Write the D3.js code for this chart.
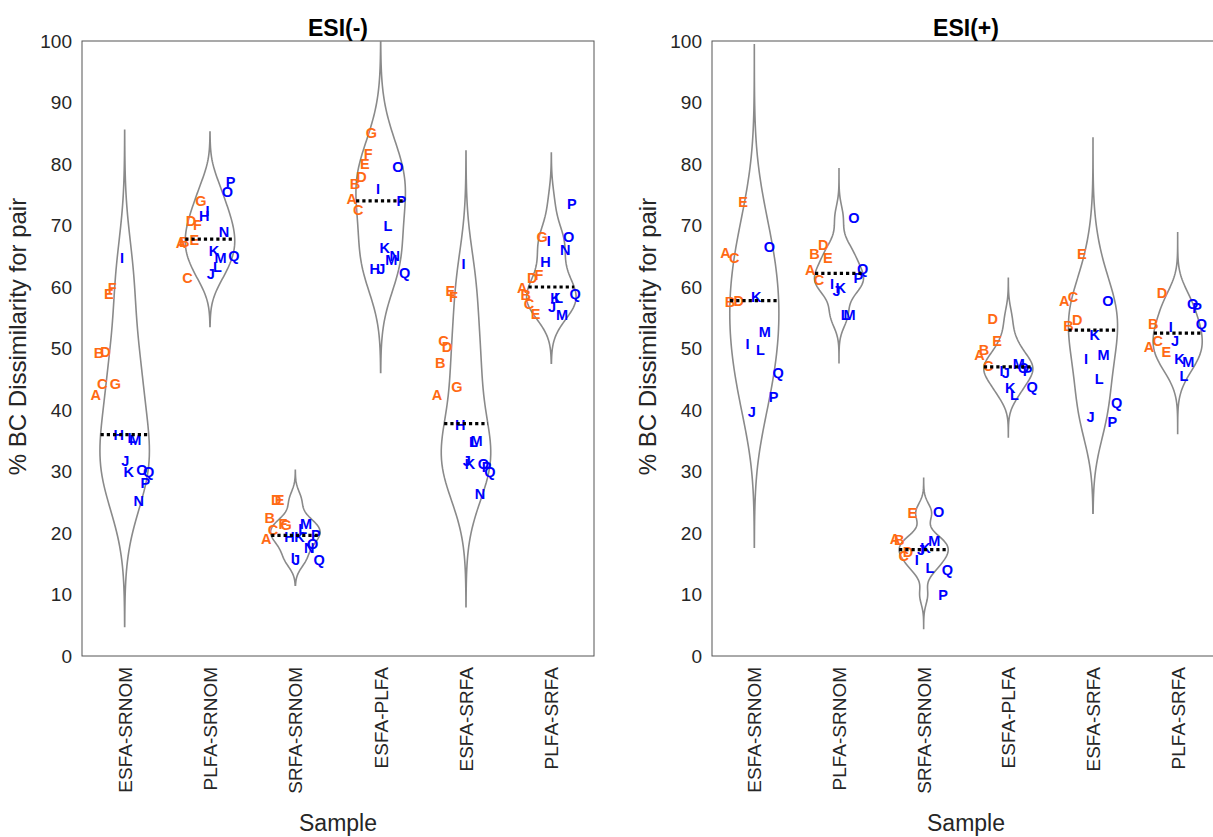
<!DOCTYPE html>
<html>
<head>
<meta charset="utf-8">
<script src="https://cdn.jsdelivr.net/npm/d3@7"></script>
<style>
  body { margin: 0; background: #fff; }
  text { font-family: "Liberation Sans", Arial, sans-serif; }
</style>
</head>
<body>
<script>
const samples = ['ESFA-SRNOM', 'PLFA-SRNOM', 'SRFA-SRNOM', 'ESFA-PLFA', 'ESFA-SRFA', 'PLFA-SRFA'];
const yTicks = [0, 10, 20, 30, 40, 50, 60, 70, 80, 90, 100];
const orangeLetters = ['A', 'B', 'C', 'D', 'E', 'F', 'G'];

// ESI(-): one row per sample, values in letter order A..Q
const negLetters = ['A', 'B', 'C', 'D', 'E', 'F', 'G', 'H', 'I', 'J', 'K', 'L', 'M', 'N', 'O', 'P', 'Q'];
const negValues = [
  [42.4, 49.2, 44.3, 49.4, 58.9, 59.9, 44.3, 35.9, 64.8, 31.8, 29.9, 35.4, 35.1, 25.2, 30.2, 28.1, 30.0],
  [67.2, 67.3, 61.4, 70.8, 67.7, 70.1, 74.0, 71.6, 72.3, 62.1, 65.9, 63.2, 64.8, 69.0, 75.5, 77.1, 65.1],
  [19.1, 22.4, 20.5, 25.3, 25.3, 21.4, 21.3, 19.4, 15.9, 15.6, 19.3, 20.7, 21.5, 17.6, 18.3, 19.7, 15.7],
  [74.3, 76.8, 72.5, 77.9, 80.0, 81.7, 85.1, 62.9, 75.9, 62.9, 66.4, 70.0, 64.4, 65.1, 79.5, 74.0, 62.3],
  [42.4, 47.6, 51.3, 50.3, 59.4, 58.4, 43.8, 37.6, 63.7, 31.8, 31.2, 34.8, 34.9, 26.3, 31.3, 30.7, 29.9],
  [59.9, 58.7, 57.2, 61.4, 55.7, 62.0, 68.1, 64.1, 67.5, 56.8, 58.3, 58.2, 55.5, 66.1, 68.1, 73.5, 58.8]
];
const negMedians = [36.0, 67.8, 19.6, 74.0, 37.8, 60.0];
const negRanges = [[4.8, 85.5], [53.6, 85.2], [11.5, 30.2], [46.1, 101.1], [8.0, 82.1], [47.6, 81.8]];

// ESI(+)
const posLetters = ['A', 'B', 'C', 'D', 'E', 'I', 'J', 'K', 'L', 'M', 'O', 'P', 'Q'];
const posValues = [
  [65.6, 57.5, 64.7, 57.7, 73.8, 50.8, 39.7, 58.4, 49.8, 52.7, 66.5, 42.2, 46.0],
  [62.7, 65.4, 61.2, 66.8, 64.8, 60.5, 59.4, 59.8, 55.4, 55.4, 71.3, 61.5, 62.9],
  [19.1, 18.8, 16.2, 16.9, 23.2, 15.7, 17.2, 17.5, 14.4, 18.7, 23.4, 9.9, 14.0],
  [48.9, 49.8, 47.1, 54.8, 51.3, 46.3, 46.0, 43.6, 42.4, 47.5, 46.8, 46.4, 43.8],
  [57.7, 53.6, 58.4, 54.7, 65.3, 48.3, 38.8, 52.2, 45.1, 48.9, 57.8, 38.1, 41.2],
  [50.2, 54.0, 51.3, 59.0, 49.4, 53.5, 51.2, 48.3, 45.6, 47.8, 57.2, 56.6, 54.0]
];
const posMedians = [57.8, 62.2, 17.3, 47.0, 53.0, 52.5];
const posRanges = [[17.7, 99.4], [47.7, 79.2], [4.5, 28.9], [35.6, 61.4], [23.2, 84.2], [36.2, 68.8]];

const W = 1213, H = 837;
const plotTop = 41, plotBottom = 656;
const orange = '#ff6a14', blue = '#0000ff';

const svg = d3.select('body').append('svg')
  .attr('width', W).attr('height', H);

const y = d3.scaleLinear().domain([0, 100]).range([plotBottom, plotTop]);

// matlab-like ksdensity bandwidth
function bandwidth(v) {
  const m = d3.median(v);
  const mad = d3.median(v, d => Math.abs(d - m));
  return (mad / 0.6745) * Math.pow(4 / (3 * v.length), 0.2);
}
function kde(v, bw, t) {
  return d3.sum(v, d => Math.exp(-0.5 * ((t - d) / bw) ** 2));
}

function drawPanel(cfg, idx) {
  const x = d3.scalePoint().domain(samples).range([cfg.x0, cfg.x1]).padding(0.5);
  const step = x.step();
  const jitter = d3.scalePoint().domain(cfg.letters).range([-0.34, 0.28]);
  const g = svg.append('g');

  g.append('clipPath').attr('id', 'clip' + idx)
    .append('rect').attr('x', cfg.x0).attr('y', plotTop)
    .attr('width', cfg.x1 - cfg.x0).attr('height', plotBottom - plotTop);

  // box
  g.append('rect')
    .attr('x', cfg.x0).attr('y', plotTop)
    .attr('width', cfg.x1 - cfg.x0).attr('height', plotBottom - plotTop)
    .attr('fill', 'none').attr('stroke', '#555').attr('stroke-width', 1);

  // y axis
  const yAxis = d3.axisLeft(y).tickValues(yTicks).tickSize(0).tickPadding(10);
  const ya = g.append('g').attr('transform', `translate(${cfg.x0},0)`).call(yAxis);
  ya.select('.domain').remove();
  ya.selectAll('text').style('font-size', '19px').attr('fill', '#262626');

  // x axis
  const xAxis = d3.axisBottom(x).tickSize(0).tickPadding(0);
  const xa = g.append('g').attr('transform', `translate(0,${plotBottom})`).call(xAxis);
  xa.select('.domain').remove();
  xa.selectAll('text')
    .style('font-size', '19px').attr('fill', '#262626')
    .attr('transform', 'rotate(-90)')
    .attr('text-anchor', 'end')
    .attr('x', -11).attr('y', 0).attr('dy', '0.35em');

  const vg = g.append('g').attr('clip-path', `url(#clip${idx})`);
  samples.forEach((s, i) => {
    const vals = cfg.values[i];
    const bw = bandwidth(vals);
    const [lo, hi] = cfg.ranges[i];
    const pts = d3.range(100).map(k => lo + (hi - lo) * k / 99);
    const dens = pts.map(t => kde(vals, bw, t));
    const dmax = d3.max(dens);
    const half = t => kde(vals, bw, t) / dmax * 0.29 * step;
    const cx = x(s);
    const right = pts.map((t, k) => [cx + dens[k] / dmax * 0.29 * step, y(t)]);
    const left = pts.map((t, k) => [cx - dens[k] / dmax * 0.29 * step, y(t)]).reverse();
    vg.append('path')
      .attr('d', d3.line()(right.concat(left)) + 'Z')
      .attr('fill', 'none').attr('stroke', '#8a8a8a').attr('stroke-width', 1.6);

    // letters
    g.append('g').selectAll('text')
      .data(cfg.letters.map((l, k) => ({ l, v: vals[k] })))
      .enter().append('text')
      .attr('x', d => cx + jitter(d.l) * step)
      .attr('y', d => y(d.v))
      .attr('dy', '0.35em')
      .attr('text-anchor', 'middle')
      .style('font-size', '14.5px').style('font-weight', 'bold')
      .attr('fill', d => orangeLetters.includes(d.l) ? orange : blue)
      .text(d => d.l);

    const med = cfg.medians[i];
    const hw = half(med);
    g.append('line')
      .attr('x1', cx - hw).attr('x2', cx + hw)
      .attr('y1', y(med)).attr('y2', y(med))
      .attr('stroke', '#000').attr('stroke-width', 3.2)
      .attr('stroke-dasharray', '3.2,3');
  });

  // labels
  g.append('text')
    .attr('x', (cfg.x0 + cfg.x1) / 2).attr('y', 36)
    .attr('text-anchor', 'middle')
    .style('font-size', '23px').style('font-weight', 'bold')
    .text(cfg.title);
  g.append('text')
    .attr('x', (cfg.x0 + cfg.x1) / 2).attr('y', 831)
    .attr('text-anchor', 'middle')
    .style('font-size', '23px').attr('fill', '#262626')
    .text('Sample');
  g.append('text')
    .attr('transform', `translate(${cfg.x0 - 56},${(plotTop + plotBottom) / 2 - 12}) rotate(-90)`)
    .attr('text-anchor', 'middle')
    .style('font-size', '24px').attr('fill', '#262626')
    .text('% BC Dissimilarity for pair');
}

drawPanel({ title: 'ESI(-)', x0: 82, x1: 594, letters: negLetters, values: negValues, medians: negMedians, ranges: negRanges }, 0);
drawPanel({ title: 'ESI(+)', x0: 712, x1: 1220, letters: posLetters, values: posValues, medians: posMedians, ranges: posRanges }, 1);
</script>
</body>
</html>
